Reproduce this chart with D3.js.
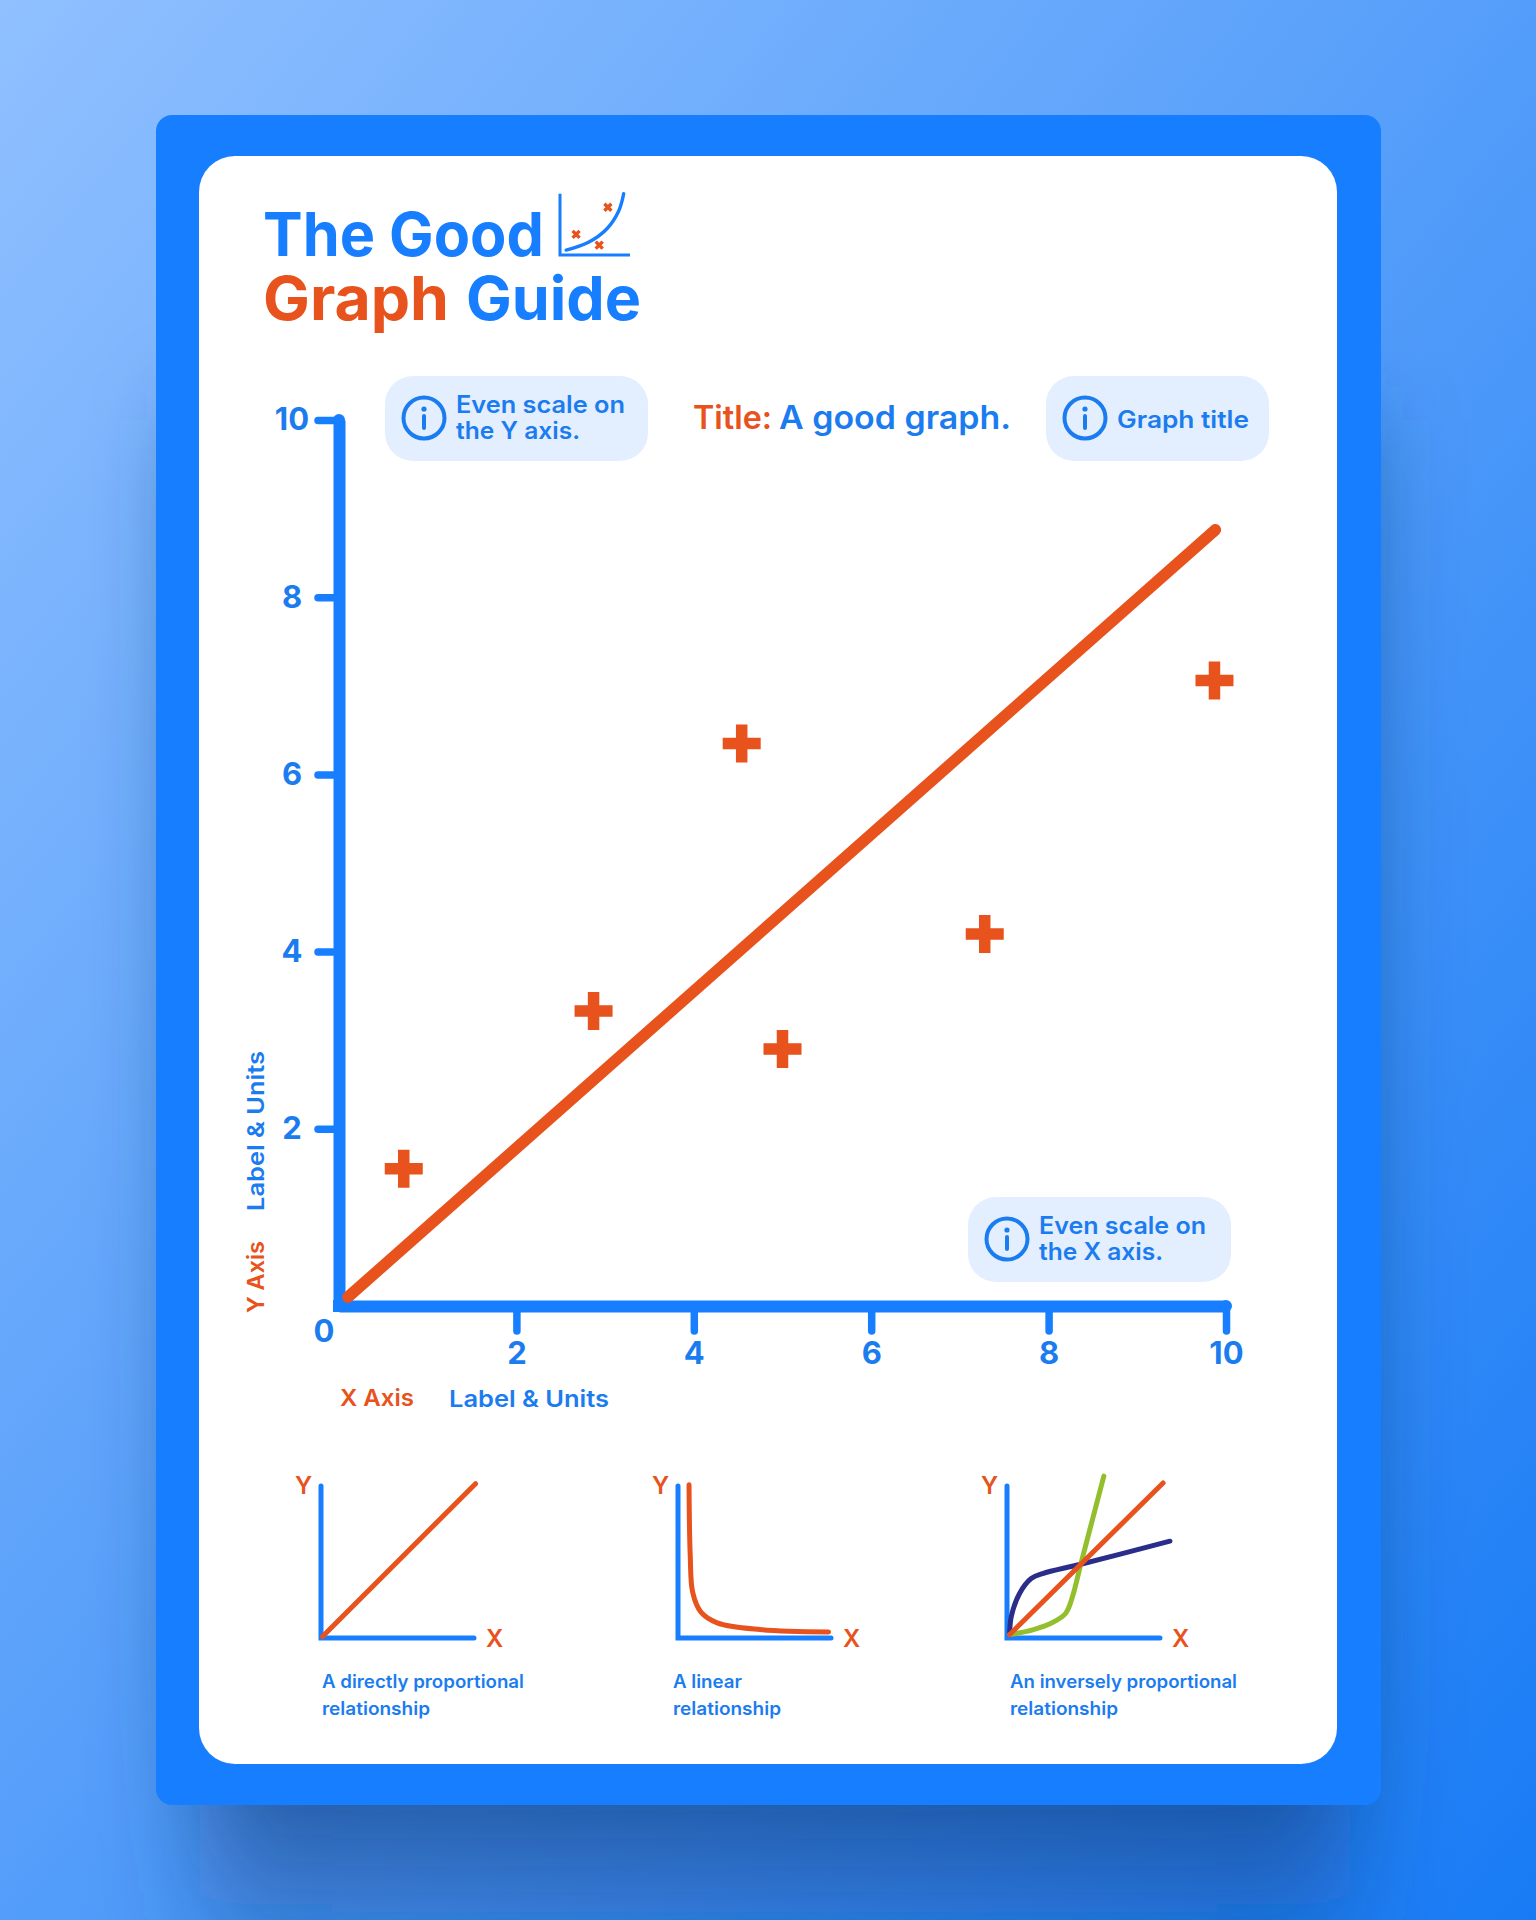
<!DOCTYPE html>
<html>
<head>
<meta charset="utf-8">
<script src="https://cdn.jsdelivr.net/npm/d3@7"></script>
<style>
  html, body { margin: 0; padding: 0; background: #fff; }
  svg { display: block; }
  text { font-family: Inter, "Noto Sans", sans-serif; font-weight: 600; }
</style>
</head>
<body>
<svg id="chart" width="1536" height="1920"></svg>
<script>
// main graph values
var xTicks = [2, 4, 6, 8, 10];
var yTicks = [2, 4, 6, 8, 10];
var pointsX = [0.73, 2.87, 4.54, 5.0, 7.28, 9.87];
var pointsY = [1.55, 3.33, 6.35, 2.90, 4.20, 7.06];
var fitLineX = [0.1, 9.88];
var fitLineY = [0.1, 8.76];

// small graphs (same 0-10 units as their axes)
var directX = [0.1, 10.1];
var directY = [0.1, 10.15];
var curveX = [0.72, 0.80, 0.96, 1.5, 2.56, 5.36, 9.84];
var curveY = [10.08, 5.4, 3.0, 1.7, 1.0, 0.56, 0.4];
var purpleX = [0.17, 0.28, 0.82, 1.58, 2.33, 4.82, 10.65];
var purpleY = [0.22, 1.41, 2.93, 3.91, 4.24, 4.85, 6.37];
var greenX = [0.17, 1.68, 2.98, 3.84, 4.28, 4.82, 6.33];
var greenY = [0.22, 0.54, 1.02, 1.63, 2.72, 4.85, 10.65];
var orangeX = [0.17, 10.2];
var orangeY = [0.22, 10.2];

// logo
var logoCurveX = [0.88, 4, 6.67, 8.4, 9.1];
var logoCurveY = [0.83, 2.1, 4.4, 7.5, 10.4];
var logoCrossX = [2.3, 6.84, 5.6];
var logoCrossY = [3.5, 8.1, 1.67];

var BLUE = "#177fff", TEXT = "#1b7cf0", ORANGE = "#e8521c", PURPLE = "#2b2d8a", GREEN = "#93bf2e";

var svg = d3.select("#chart");
var defs = svg.append("defs");

var bg = defs.append("linearGradient").attr("id", "bg")
    .attr("x1", 0).attr("y1", 0).attr("x2", 1).attr("y2", 1);
bg.append("stop").attr("offset", "0%").attr("stop-color", "#90c0ff");
bg.append("stop").attr("offset", "100%").attr("stop-color", "#187bf5");
var shade = defs.append("linearGradient").attr("id", "shade")
    .attr("gradientUnits", "userSpaceOnUse")
    .attr("x1", 0).attr("y1", 1720).attr("x2", 0).attr("y2", 1980);
shade.append("stop").attr("offset", "0%").attr("stop-color", "#123f80").attr("stop-opacity", 0.85);
shade.append("stop").attr("offset", "100%").attr("stop-color", "#123f80").attr("stop-opacity", 0.1);
defs.append("filter").attr("id", "blur")
    .attr("x", "-20%").attr("y", "-20%").attr("width", "140%").attr("height", "140%")
    .append("feGaussianBlur").attr("stdDeviation", 50);

svg.append("rect").attr("width", 1536).attr("height", 1920).attr("fill", "url(#bg)");
svg.append("rect").attr("x", 200).attr("y", 420).attr("width", 1150).attr("height", 1560)
    .attr("fill", "url(#shade)").attr("filter", "url(#blur)");
svg.append("rect").attr("x", 156).attr("y", 115).attr("width", 1225).attr("height", 1690)
    .attr("rx", 16).attr("fill", BLUE);
svg.append("rect").attr("x", 199).attr("y", 156).attr("width", 1138).attr("height", 1608)
    .attr("rx", 36).attr("fill", "#fff");

// text with a fixed width, so the lines end where they do in the poster
function label(g, str, x, y, size, color, width, weight) {
    var t = g.append("text").attr("x", x).attr("y", y)
        .attr("font-size", size).attr("fill", color).text(str);
    if (weight) t.style("font-weight", weight);
    if (width) t.attr("textLength", width).attr("lengthAdjust", "spacingAndGlyphs");
    return t;
}

// ── Heading ──────────────────────────────────────────────────────────────
label(svg, "The Good", 263, 256, 61, BLUE, 281, 700);
label(svg, "Graph", 263, 320, 61, ORANGE, 186, 700);
label(svg, "Guide", 466, 320, 61, BLUE, 175, 700);

var logoX = d3.scaleLinear().domain([0, 10]).range([560, 630]);
var logoY = d3.scaleLinear().domain([0, 10]).range([255, 196]);
var logo = svg.append("g");
logo.append("path")
    .attr("d", "M" + logoX(0) + "," + logoY(10.4) + "V" + logoY(0) + "H" + logoX(10))
    .attr("fill", "none").attr("stroke", BLUE).attr("stroke-width", 3);
logo.append("path")
    .attr("d", d3.line().x(function (d) { return logoX(d); })
        .y(function (d, i) { return logoY(logoCurveY[i]); })
        .curve(d3.curveCatmullRom)(logoCurveX))
    .attr("fill", "none").attr("stroke", BLUE).attr("stroke-width", 3.4).attr("stroke-linecap", "round");
logoCrossX.forEach(function (v, i) {
    logo.append("path")
        .attr("transform", "translate(" + logoX(v) + "," + logoY(logoCrossY[i]) + ")")
        .attr("d", "M-3.5,-3.5L3.5,3.5M-3.5,3.5L3.5,-3.5")
        .attr("stroke", ORANGE).attr("stroke-width", 3.4);
});

// ── Main graph ───────────────────────────────────────────────────────────
var x = d3.scaleLinear().domain([0, 10]).range([339, 1226]);
var y = d3.scaleLinear().domain([0, 10]).range([1306, 420]);

// tickSize first: it also sets the outer size
var xAxis = svg.append("g").attr("transform", "translate(0," + y(0) + ")")
    .call(d3.axisBottom(x).tickValues(xTicks).tickSize(25).tickSizeOuter(0).tickPadding(11));
var yAxis = svg.append("g").attr("transform", "translate(" + x(0) + ",0)")
    .call(d3.axisLeft(y).tickValues(yTicks).tickSize(21).tickSizeOuter(0).tickPadding(9));

[xAxis, yAxis].forEach(function (a) {
    a.attr("font-family", null).attr("font-size", null);
    a.select(".domain").attr("stroke", BLUE).attr("stroke-width", 12);
    a.selectAll(".tick line").attr("stroke", BLUE).attr("stroke-width", 7.5).attr("stroke-linecap", "round");
    a.selectAll(".tick text").attr("fill", TEXT).attr("font-size", 31).style("font-weight", 700);
});
// y labels are centred in their column
yAxis.selectAll(".tick text").attr("text-anchor", "middle").attr("x", -47);
// square corner at the origin, round ends at the far side
svg.append("rect").attr("x", x(0) - 6).attr("y", y(0) - 6).attr("width", 12).attr("height", 12).attr("fill", BLUE);
svg.append("circle").attr("cx", x(10)).attr("cy", y(0)).attr("r", 6).attr("fill", BLUE);
svg.append("circle").attr("cx", x(0)).attr("cy", y(10)).attr("r", 6).attr("fill", BLUE);
label(svg, "0", 324, 1342, 31, TEXT, null, 700).attr("text-anchor", "middle");

svg.append("line")
    .attr("x1", x(fitLineX[0])).attr("y1", y(fitLineY[0]))
    .attr("x2", x(fitLineX[1])).attr("y2", y(fitLineY[1]))
    .attr("stroke", ORANGE).attr("stroke-width", 11.5).attr("stroke-linecap", "round");

pointsX.forEach(function (v, i) {
    svg.append("path")
        .attr("transform", "translate(" + x(v) + "," + y(pointsY[i]) + ")")
        .attr("d", "M-19,0H19M0,-19V19")
        .attr("fill", "none").attr("stroke", ORANGE).attr("stroke-width", 11.5);
});

// axis captions
label(svg, "X Axis", 340, 1406, 23, ORANGE, 74);
label(svg, "Label & Units", 449, 1407, 23, TEXT, 160);
var yCap = svg.append("g").attr("transform", "translate(264,0) rotate(-90)");
label(yCap, "Y Axis", -1313, 0, 23, ORANGE, 72);
label(yCap, "Label & Units", -1211, 0, 23, TEXT, 160);

label(svg, "Title:", 693, 429, 32, ORANGE, 79);
label(svg, "A good graph.", 779, 429, 32, TEXT, 232);

// ── Info callouts ────────────────────────────────────────────────────────
function callout(px, py, w, lines, textW) {
    var g = svg.append("g").attr("transform", "translate(" + px + "," + py + ")");
    g.append("rect").attr("width", w).attr("height", 85).attr("rx", 28).attr("fill", "#e3eefe");
    g.append("circle").attr("cx", 39).attr("cy", 42).attr("r", 20.5)
        .attr("fill", "none").attr("stroke", TEXT).attr("stroke-width", 4);
    g.append("circle").attr("cx", 39).attr("cy", 33).attr("r", 2.6).attr("fill", TEXT);
    g.append("line").attr("x1", 39).attr("x2", 39).attr("y1", 40).attr("y2", 52)
        .attr("stroke", TEXT).attr("stroke-width", 4).attr("stroke-linecap", "round");
    var base = lines.length > 1 ? 37 : 52;
    lines.forEach(function (s, i) {
        label(g, s, 71, base + i * 26, 24, TEXT, textW[i]);
    });
}
callout(385, 376, 263, ["Even scale on", "the Y axis."], [169, 124]);
callout(1046, 376, 223, ["Graph title"], [132]);
callout(968, 1197, 263, ["Even scale on", "the X axis."], [167, 124]);

// ── Small graphs ─────────────────────────────────────────────────────────
function smallGraph(left, lines, captions, capX, capW) {
    var sx = d3.scaleLinear().domain([0, 10]).range([left, left + 153]);
    var sy = d3.scaleLinear().domain([0, 10]).range([1638, 1486]);
    var g = svg.append("g");
    g.append("path")
        .attr("d", "M" + sx(0) + "," + sy(10) + "V" + sy(0) + "H" + sx(10))
        .attr("fill", "none").attr("stroke", BLUE).attr("stroke-width", 5).attr("stroke-linecap", "round");
    lines.forEach(function (ln) {
        g.append("path")
            .attr("d", d3.line().x(function (d) { return sx(d); })
                .y(function (d, i) { return sy(ln.y[i]); })
                .curve(d3.curveCatmullRom)(ln.x))
            .attr("fill", "none").attr("stroke", ln.color)
            .attr("stroke-width", 5).attr("stroke-linecap", "round");
    });
    label(g, "Y", left - 26, 1494, 24, ORANGE);
    label(g, "X", left + 165, 1647, 24, ORANGE);
    captions.forEach(function (s, i) {
        label(g, s, capX, 1688 + i * 27, 18, TEXT, capW[i]);
    });
}
smallGraph(321, [{ x: directX, y: directY, color: ORANGE }],
    ["A directly proportional", "relationship"], 322, [202, 108]);
smallGraph(678, [{ x: curveX, y: curveY, color: ORANGE }],
    ["A linear", "relationship"], 673, [69, 108]);
smallGraph(1007, [
    { x: purpleX, y: purpleY, color: PURPLE },
    { x: greenX, y: greenY, color: GREEN },
    { x: orangeX, y: orangeY, color: ORANGE }
], ["An inversely proportional", "relationship"], 1010, [227, 108]);
</script>
</body>
</html>
